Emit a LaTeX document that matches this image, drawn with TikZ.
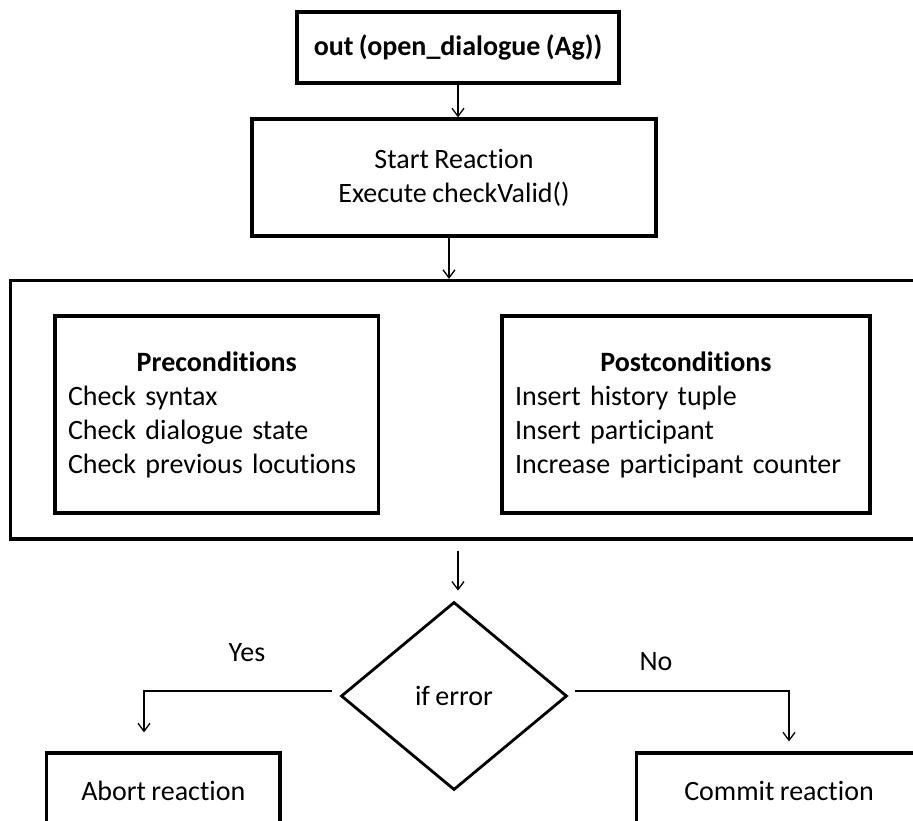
\documentclass[tikz,border=0pt]{standalone}
\usepackage{fontspec}
\setmainfont[RawFeature={-liga;-clig;-dlig}, WordSpace=0.85]{Carlito}
\usetikzlibrary{shapes.geometric,arrows.meta,calc}

\tikzset{
  txt/.style={font=\fontsize{28pt}{34pt}\selectfont},
  cbox/.style={txt, draw, line width=3.2pt, rectangle, inner sep=0pt, fill=white},
  decision/.style={txt, draw, line width=2.8pt, diamond, inner sep=0pt,
    minimum width=226pt, minimum height=188pt},
  arr/.style={line width=1.3pt, -{Straight Barb[length=8pt,width=12pt]}},
  link/.style={line width=1.3pt}
}

\begin{document}
\begin{tikzpicture}[x=1pt, y=-1pt]
  \useasboundingbox (0,0) rectangle (913,821);
  \fill[white] (0,0) rectangle (913,821);
  \clip (0,0) rectangle (913,821);

  % flow boxes
  \node[cbox, minimum width=322pt, minimum height=71pt] (out) at (458,47.5)
    {\bfseries out (open\_dialogue (Ag))};
  \node[cbox, minimum width=404pt, minimum height=117pt, align=center] (start) at (454,177.5)
    {Start Reaction\\Execute checkValid()};

  % outer frame holding the two condition lists
  \node[cbox, minimum width=919.5pt, minimum height=258.5pt] (checks) at (470.25,409.75) {};
  \node[cbox, minimum width=323.5pt, minimum height=197pt, text width=297.5pt, align=left] (pre) at (216.75,414.5)
    {\makebox[297.5pt][c]{\bfseries Preconditions}\\Check syntax\\Check dialogue state\\Check previous locutions};
  \node[cbox, minimum width=368pt, minimum height=197pt, text width=342pt, align=left] (post) at (686,414.5)
    {\makebox[342pt][c]{\bfseries Postconditions}\\Insert history tuple\\Insert participant\\Increase participant counter};

  % decision and outcomes
  \node[decision] (dec) at (454,696) {if error};
  \node[cbox, minimum width=233.4pt, minimum height=76pt] (abort) at (163.3,791) {Abort reaction};
  \node[cbox, minimum width=285pt, minimum height=76pt] (commit) at (779,791) {Commit reaction};

  \node[txt] (yes) at (247,653) {Yes};
  \node[txt] (no) at (656,662) {No};

  % connectors
  \draw[arr] (out.south) -- (out.south |- start.north);
  \draw[arr] ([xshift=-5pt]start.south) -- ([xshift=-5pt]start.south |- checks.north);
  \draw[arr] ($(checks.south -| dec.north)+(4,10)$) -- ($(dec.north)+(4,-10)$);
  \draw[arr] ($(dec.west)+(-8,-5)$) -| ($(abort.north west)+(99,-19)$);
  \draw[arr] ($(dec.east)+(7,-5)$) -| ($(commit.north)+(10,-10)$);
\end{tikzpicture}
\end{document}
